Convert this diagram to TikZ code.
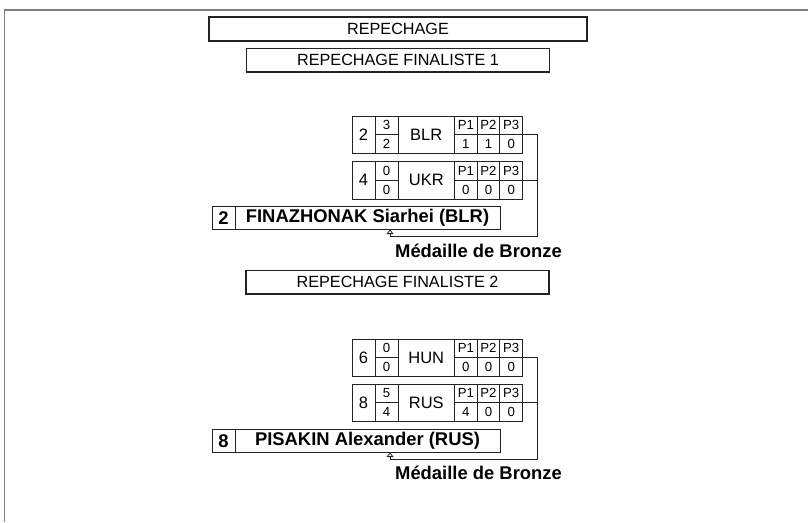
\documentclass[tikz,border=0pt]{standalone}
\usepackage{fontspec}
\setmainfont{Liberation Sans}
\usetikzlibrary{arrows.meta, positioning}
\definecolor{framegray}{RGB}{128, 128, 128}
\definecolor{inkgray}{RGB}{35, 35, 35}

\newcommand{\titlefont}{\fontsize{16.2}{18}\selectfont}
\newcommand{\bigdigit}{\fontsize{16.5}{18}\selectfont}
\newcommand{\smalldigit}{\fontsize{13.2}{14}\selectfont}
\newcommand{\winfont}{\fontsize{18.4}{21}\selectfont\bfseries}

% one row of a bout: prefix, top, seed, score top, score bottom, team, P1, P2, P3
\newcommand{\boutrow}[9]{%
  \node[cell, minimum width=23pt, minimum height=37.5pt, font=\bigdigit] (#1seed) at (352,#2) {#3};
  \node[cell, minimum width=23pt, minimum height=18.75pt, font=\smalldigit] (#1sa) at (#1seed.north east) {#4};
  \node[cell, minimum width=23pt, minimum height=18.75pt, font=\smalldigit] (#1sb) at (#1sa.south west) {#5};
  \node[cell, minimum width=56.5pt, minimum height=37.5pt, font=\bigdigit] (#1team) at (#1sa.north east) {#6};
  \node[pcell] (#1pa) at (#1team.north east) {P1};
  \node[pcell] (#1pb) at (#1pa.north east) {P2};
  \node[pcell] (#1pc) at (#1pb.north east) {P3};
  \node[pcell] (#1va) at (#1pa.south west) {#7};
  \node[pcell] (#1vb) at (#1va.north east) {#8};
  \node[pcell] (#1vc) at (#1vb.north east) {#9};
}

\begin{document}
\begin{tikzpicture}[
        x=1pt, y=-1pt,
        titlebox/.style={rectangle, draw=inkgray, line width=1.5pt, minimum width=303pt, minimum height=23.5pt, inner sep=0pt, font=\titlefont},
        cell/.style={rectangle, draw=inkgray, line width=0.8pt, inner sep=0pt, outer sep=0pt, anchor=north west},
        pcell/.style={cell, minimum width=22.67pt, minimum height=18.75pt, font=\smalldigit},
        winbox/.style={cell, minimum height=23.5pt, font=\winfont},
        medal/.style={font=\winfont, inner sep=0pt},
        link/.style={draw=inkgray, line width=0.8pt},
        tip/.style={-{Triangle[open, length=4.5pt, width=7pt]}}
    ]
        \useasboundingbox (0,0) rectangle (808,522);

        % Page frame
        \draw[framegray, line width=1.4pt] (4.5,522) -- (4.5,9.8) -- (808,9.8);

        % Titles
        \node[titlebox, minimum width=378pt, minimum height=24pt] (rep) at (398,29) {REPECHAGE};
        \node[titlebox, below=6pt of rep] (fin1) {REPECHAGE FINALISTE 1};
        \node[titlebox] (fin2) at (397.5,282) {REPECHAGE FINALISTE 2};

        % Finaliste 1
        \boutrow{blr}{116}{2}{3}{2}{BLR}{1}{1}{0}
        \boutrow{ukr}{161.5}{4}{0}{0}{UKR}{0}{0}{0}
        \node[winbox, minimum width=23pt] (win1seed) at (212,206) {2};
        \node[winbox, minimum width=265pt] (win1name) at (win1seed.north east) {FINAZHONAK Siarhei (BLR)};
        \node[medal] (bronze1) at (478.5,251) {Médaille de Bronze};

        % Finaliste 2
        \boutrow{hun}{339}{6}{0}{0}{HUN}{0}{0}{0}
        \boutrow{rus}{384}{8}{5}{4}{RUS}{4}{0}{0}
        \node[winbox, minimum width=23pt] (win2seed) at (212,429) {8};
        \node[winbox, minimum width=265pt] (win2name) at (win2seed.north east) {PISAKIN Alexander (RUS)};
        \node[medal] (bronze2) at (478.5,473) {Médaille de Bronze};

        % Connections
        \coordinate (turn1) at (537.5,236.5);
        \coordinate (turn2) at (537.5,459.5);
        \draw[link, tip] (blrpc.south east) -| (turn1) -| ([xshift=22.5pt]win1name.south);
        \draw[link] (ukrpc.south east) -- (ukrpc.south east -| turn1);
        \draw[link, tip] (hunpc.south east) -| (turn2) -| ([xshift=22.5pt]win2name.south);
        \draw[link] (ruspc.south east) -- (ruspc.south east -| turn2);

    \end{tikzpicture}
\end{document}
